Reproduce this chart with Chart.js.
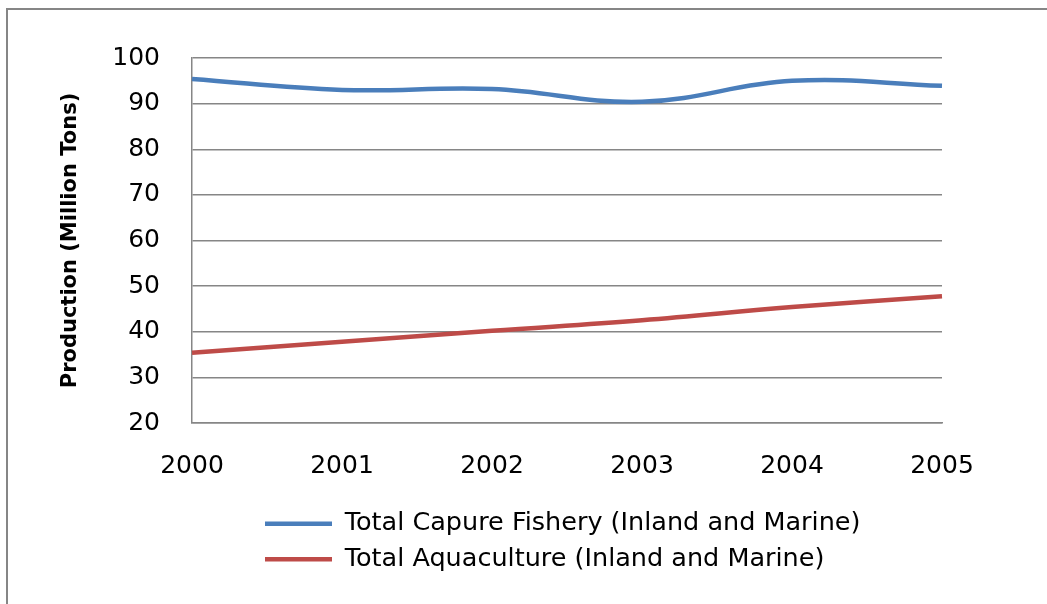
<!DOCTYPE html>
<html>
<head>
<meta charset="utf-8">
<script src="https://cdn.jsdelivr.net/npm/chart.js@4.4.0/dist/chart.umd.min.js"></script>
<style>
  html, body { margin: 0; padding: 0; background: #fff; }
  #wrap { width: 1047px; height: 604px; }
</style>
</head>
<body>
<div id="wrap"><canvas id="myChart" width="1047" height="604"></canvas></div>
<script>
// years on the x axis
const years = ['2000', '2001', '2002', '2003', '2004', '2005'];
// million tons
const capture = [95.4, 93.0, 93.2, 90.4, 95.0, 93.9];
const aquaculture = [35.4, 37.8, 40.2, 42.5, 45.4, 47.8];
const yTicks = [20, 30, 40, 50, 60, 70, 80, 90, 100];

const gridGrey = '#868686';
const font = 'DejaVu Sans';

// outer frame of the old excel chart + shift legend to the left-aligned block
const framePlugin = {
    id: 'frame',
    beforeDraw(chart) {
        const ctx = chart.ctx;
        ctx.save();
        ctx.fillStyle = '#fff';
        ctx.fillRect(0, 0, chart.width, chart.height);
        ctx.strokeStyle = gridGrey;
        ctx.lineWidth = 2;
        ctx.strokeRect(7, 9, 2000, 2000);
        ctx.restore();
    },
    afterLayout(chart) {
        chart.legend.left += 63;
        chart.legend.right += 63;
    }
};

const chartData = {
    labels: years,
    datasets: [{
        label: 'Total Capure Fishery (Inland and Marine)',
        data: capture,
        borderColor: '#4A7EBB',
        backgroundColor: '#4A7EBB',
        borderWidth: 4.5,
        tension: 0.4,
        pointRadius: 0
    }, {
        label: 'Total Aquaculture (Inland and Marine)',
        data: aquaculture,
        borderColor: '#BE4B48',
        backgroundColor: '#BE4B48',
        borderWidth: 4.5,
        tension: 0.4,
        pointRadius: 0
    }]
};

const config = {
    type: 'line',
    data: chartData,
    plugins: [framePlugin],
    options: {
        responsive: false,
        animation: false,
        layout: { padding: { left: 0, top: 58, right: 105, bottom: 22 } },
        plugins: {
            tooltip: { enabled: false },
            legend: {
                position: 'bottom',
                align: 'start',
                fullSize: false,
                labels: {
                    boxWidth: 67,
                    boxHeight: 0,
                    padding: 10,
                    color: '#000',
                    font: { family: font, size: 25.5 }
                }
            }
        },
        scales: {
            x: {
                offset: false,
                grid: { display: false, drawTicks: false },
                border: { color: gridGrey, width: 1.5 },
                ticks: { color: '#000', padding: 28, maxRotation: 0, font: { family: font, size: 25 } },
                afterFit(s) { s.height = 78; }
            },
            y: {
                min: 20,
                max: 100,
                afterBuildTicks(s) { s.ticks = yTicks.map(v => ({ value: v })); },
                grid: { color: gridGrey, lineWidth: 1.5, drawTicks: false },
                border: { color: gridGrey, width: 1.5 },
                ticks: { color: '#000', padding: 32, font: { family: font, size: 25 } },
                title: {
                    display: true,
                    text: 'Production (Million Tons)',
                    color: '#000',
                    padding: { top: 58, bottom: 0 },
                    font: { family: font, size: 21, weight: 'bold' }
                },
                afterFit(s) { s.width = 192; }
            }
        }
    }
};

var myChart = new Chart(document.getElementById('myChart'), config);
</script>
</body>
</html>
